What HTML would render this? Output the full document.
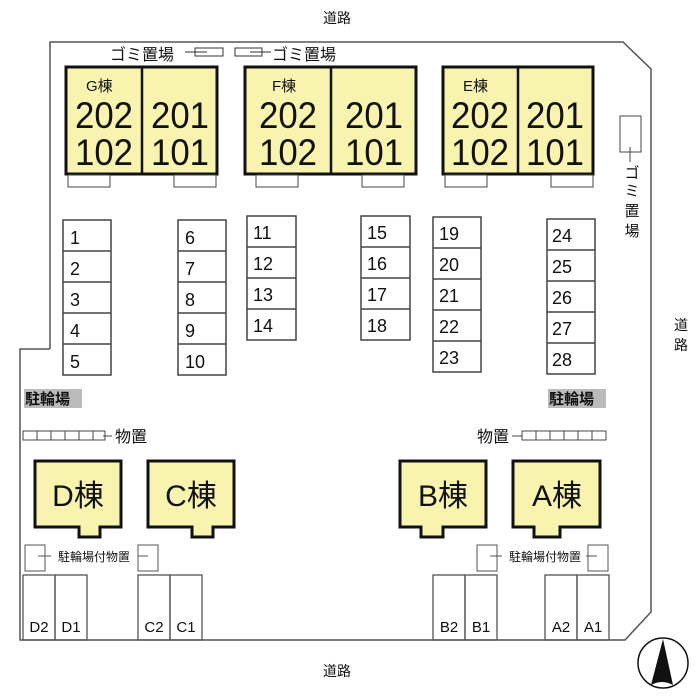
<!DOCTYPE html><html><head><meta charset="utf-8"><style>body{margin:0;background:#fff}svg{display:block}text{font-family:"Liberation Sans","Noto Sans CJK JP",sans-serif;fill:#111}</style></head><body>
<svg width="700" height="700" viewBox="0 0 700 700" xmlns="http://www.w3.org/2000/svg">
<g fill="none" stroke="#555" stroke-width="1.5">
<polyline points="50,349 50,42 623,42 651,69 651,612 625,640 20,640 20,349 50,349"/>
</g>
<text x="337" y="23" font-size="14" text-anchor="middle">道路</text>
<text x="337" y="676" font-size="14" text-anchor="middle">道路</text>
<text x="681" y="330" font-size="14" text-anchor="middle">道</text>
<text x="681" y="350" font-size="14" text-anchor="middle">路</text>
<text x="110" y="60" font-size="16">ゴミ置場</text>
<text x="272" y="60" font-size="16">ゴミ置場</text>
<g fill="none" stroke="#333" stroke-width="1">
<rect x="195" y="48" width="28" height="8"/><rect x="235" y="48" width="27" height="8"/>
<line x1="185" y1="52" x2="207" y2="52"/><line x1="250" y1="52" x2="271" y2="52"/>
</g>
<g fill="#f8f4b0" stroke="#111" stroke-width="3">
<rect x="66" y="67" width="151" height="107"/><rect x="245" y="67" width="171" height="107"/><rect x="443" y="67" width="150" height="107"/>
</g>
<g stroke="#111" stroke-width="2.5"><line x1="142" y1="67" x2="142" y2="174"/><line x1="331" y1="67" x2="331" y2="174"/><line x1="518" y1="67" x2="518" y2="174"/></g>
<g fill="#fff" stroke="#444" stroke-width="1">
<rect x="68" y="175" width="42" height="12"/><rect x="174" y="175" width="42" height="12"/>
<rect x="256" y="175" width="42" height="12"/><rect x="362" y="175" width="42" height="12"/>
<rect x="445" y="175" width="42" height="12"/><rect x="551" y="175" width="42" height="12"/>
</g>
<g font-size="15"><text x="86" y="91">G棟</text><text x="272" y="91">F棟</text><text x="463" y="91">E棟</text></g>
<g font-size="37" text-anchor="middle" textLength="58" lengthAdjust="spacingAndGlyphs">
<text x="104" y="128" textLength="58" lengthAdjust="spacingAndGlyphs">202</text><text x="104" y="165" textLength="58" lengthAdjust="spacingAndGlyphs">102</text><text x="180" y="128" textLength="58" lengthAdjust="spacingAndGlyphs">201</text><text x="180" y="165" textLength="58" lengthAdjust="spacingAndGlyphs">101</text>
<text x="288" y="128" textLength="58" lengthAdjust="spacingAndGlyphs">202</text><text x="288" y="165" textLength="58" lengthAdjust="spacingAndGlyphs">102</text><text x="374" y="128" textLength="58" lengthAdjust="spacingAndGlyphs">201</text><text x="374" y="165" textLength="58" lengthAdjust="spacingAndGlyphs">101</text>
<text x="480" y="128" textLength="58" lengthAdjust="spacingAndGlyphs">202</text><text x="480" y="165" textLength="58" lengthAdjust="spacingAndGlyphs">102</text><text x="555" y="128" textLength="58" lengthAdjust="spacingAndGlyphs">201</text><text x="555" y="165" textLength="58" lengthAdjust="spacingAndGlyphs">101</text>
</g>
<rect x="620" y="116" width="21" height="36" fill="none" stroke="#444"/>
<line x1="630" y1="147" x2="630" y2="162" stroke="#444"/>
<g font-size="15" text-anchor="middle"><text x="632" y="178">ゴ</text><text x="632" y="196">ミ</text><text x="632" y="216">置</text><text x="632" y="236">場</text></g>
<g fill="none" stroke="#444" stroke-width="1.5">
<rect x="63" y="220" width="48" height="155"/><rect x="178" y="220" width="48" height="155"/>
<rect x="247" y="216" width="49" height="124"/><rect x="361" y="216" width="49" height="124"/>
<rect x="433" y="217" width="48" height="155"/><rect x="547" y="219" width="48" height="155"/>
<path d="M63 251H111M63 282H111M63 313H111M63 344H111M178 251H226M178 282H226M178 313H226M178 344H226M247 247H296M247 278H296M247 309H296M361 247H410M361 278H410M361 309H410M433 248H481M433 279H481M433 310H481M433 341H481M547 250H595M547 281H595M547 312H595M547 343H595"/>
</g>
<g font-size="18">
<text x="70" y="244">1</text><text x="70" y="275">2</text><text x="70" y="306">3</text><text x="70" y="337">4</text><text x="70" y="368">5</text>
<text x="185" y="244">6</text><text x="185" y="275">7</text><text x="185" y="306">8</text><text x="185" y="337">9</text><text x="185" y="368">10</text>
<text x="253" y="239">11</text><text x="253" y="270">12</text><text x="253" y="301">13</text><text x="253" y="332">14</text>
<text x="367" y="239">15</text><text x="367" y="270">16</text><text x="367" y="301">17</text><text x="367" y="332">18</text>
<text x="439" y="240">19</text><text x="439" y="271">20</text><text x="439" y="302">21</text><text x="439" y="333">22</text><text x="439" y="364">23</text>
<text x="552" y="242">24</text><text x="552" y="273">25</text><text x="552" y="304">26</text><text x="552" y="335">27</text><text x="552" y="366">28</text>
</g>
<rect x="24" y="389" width="58" height="19" fill="#bbb"/><rect x="548" y="389" width="58" height="19" fill="#bbb"/>
<text x="25" y="404" font-size="15" font-weight="bold">駐輪場</text><text x="549" y="404" font-size="15" font-weight="bold">駐輪場</text>
<g fill="none" stroke="#444" stroke-width="1">
<rect x="23" y="431" width="82" height="9"/><rect x="522" y="431" width="84" height="9"/>
<path d="M37 431V440M51 431V440M65 431V440M79 431V440M93 431V440M536 431V440M550 431V440M564 431V440M578 431V440M592 431V440M103 436H112M512 436H522"/>
</g>
<text x="115" y="442" font-size="16">物置</text><text x="477" y="442" font-size="16">物置</text>
<g fill="#f8f4b0" stroke="#111" stroke-width="3">
<path d="M35 461H121V527H100V537H79V527H35Z"/><path d="M148 461H234V527H213V537H192V527H148Z"/>
<path d="M400 461H486V527H443V537H421V527H400Z"/><path d="M513 461H600V527H560V537H534V527H513Z"/>
</g>
<g font-size="30" text-anchor="middle"><text x="78" y="506">D棟</text><text x="191" y="506">C棟</text><text x="443" y="506">B棟</text><text x="557" y="506">A棟</text></g>
<g fill="none" stroke="#555" stroke-width="1">
<rect x="25" y="545" width="20" height="26"/><rect x="138" y="545" width="20" height="26"/>
<rect x="477" y="545" width="20" height="26"/><rect x="588" y="545" width="20" height="26"/>
<path d="M38 556H51M138 556H148M490 556H502M586 556H597"/>
</g>
<text x="94" y="561" font-size="12" text-anchor="middle">駐輪場付物置</text>
<text x="545" y="561" font-size="12" text-anchor="middle">駐輪場付物置</text>
<g fill="none" stroke="#555" stroke-width="1.3">
<rect x="23" y="575" width="32" height="65"/><rect x="55" y="575" width="32" height="65"/>
<rect x="138" y="575" width="32" height="65"/><rect x="170" y="575" width="32" height="65"/>
<rect x="433" y="575" width="32" height="65"/><rect x="465" y="575" width="32" height="65"/>
<rect x="545" y="575" width="32" height="65"/><rect x="577" y="575" width="32" height="65"/>
</g>
<g font-size="15" text-anchor="middle">
<text x="39" y="632">D2</text><text x="71" y="632">D1</text><text x="154" y="632">C2</text><text x="186" y="632">C1</text>
<text x="449" y="632">B2</text><text x="481" y="632">B1</text><text x="561" y="632">A2</text><text x="593" y="632">A1</text>
</g>
<circle cx="663" cy="663" r="25" fill="none" stroke="#111" stroke-width="1.5"/>
<path d="M663 639L651 685Q662 679 673 685Z" fill="#111"/>
</svg></body></html>
